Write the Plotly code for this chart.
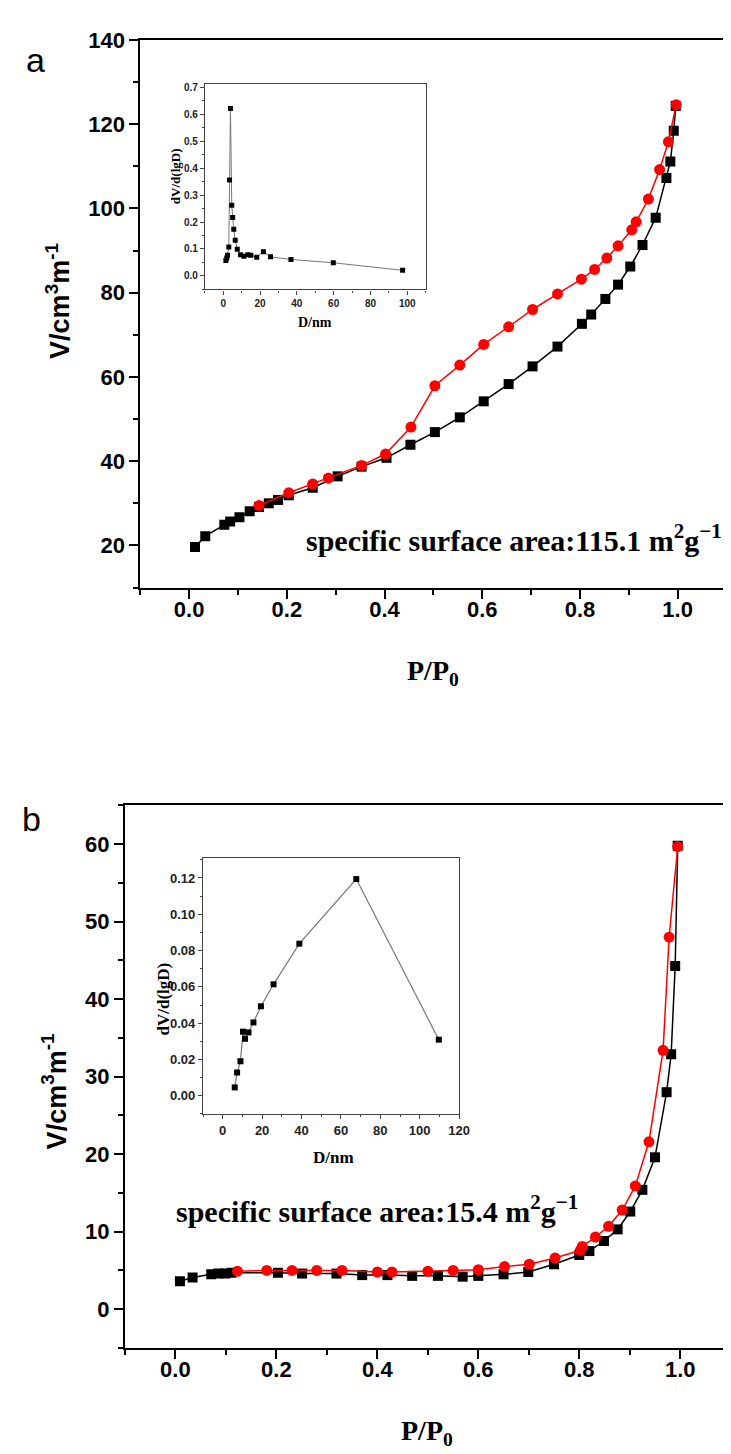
import plotly.graph_objects as go

W, H = 731, 1454

# ---------------- data: panel a (isotherm) ----------------
a_ads_p = [0.012, 0.033, 0.072, 0.084, 0.103, 0.124, 0.143, 0.163, 0.182, 0.204,
           0.253, 0.304, 0.353, 0.404, 0.453, 0.503, 0.554, 0.603, 0.654, 0.703,
           0.754, 0.804, 0.823, 0.852, 0.878, 0.903, 0.928, 0.955, 0.977, 0.985,
           0.992, 0.996]
a_ads_v = [19.6, 22.2, 24.9, 25.7, 26.7, 28.1, 29.1, 30.0, 30.8, 31.9,
           33.7, 36.4, 38.7, 40.8, 43.9, 46.9, 50.4, 54.2, 58.3, 62.5,
           67.2, 72.6, 74.8, 78.5, 81.9, 86.2, 91.3, 97.8, 107.2, 111.1,
           118.4, 124.3]
a_des_p = [0.997, 0.981, 0.963, 0.940, 0.915, 0.906, 0.878, 0.855, 0.830, 0.803,
           0.754, 0.703, 0.654, 0.603, 0.554, 0.503, 0.454, 0.402, 0.353, 0.285,
           0.253, 0.204, 0.143]
a_des_v = [124.6, 115.8, 109.2, 102.2, 96.8, 94.9, 91.1, 88.2, 85.5, 83.2,
           79.7, 76.0, 71.9, 67.7, 62.8, 57.9, 48.1, 41.7, 39.0, 36.0,
           34.6, 32.5, 29.5]

# inset a (pore size distribution)
a_psd_d = [1.4, 1.9, 2.3, 3.0, 3.4, 3.9, 4.6, 5.1, 5.7, 6.5, 7.6, 9.4, 11.2,
           13.3, 15.0, 18.2, 21.8, 25.7, 36.8, 59.8, 97.5]
a_psd_v = [0.057, 0.067, 0.077, 0.107, 0.356, 0.621, 0.262, 0.217, 0.173, 0.132,
           0.099, 0.079, 0.073, 0.079, 0.077, 0.069, 0.090, 0.071, 0.061, 0.049,
           0.021]

# ---------------- data: panel b (isotherm) ----------------
b_ads_p = [0.009, 0.034, 0.071, 0.085, 0.099, 0.111, 0.203, 0.251, 0.319, 0.370,
           0.420, 0.469, 0.520, 0.569, 0.600, 0.650, 0.699, 0.750, 0.800, 0.820,
           0.849, 0.876, 0.901, 0.925, 0.950, 0.973, 0.982, 0.990, 0.995]
b_ads_v = [3.6, 4.1, 4.5, 4.6, 4.6, 4.7, 4.7, 4.6, 4.6, 4.4,
           4.4, 4.3, 4.3, 4.2, 4.3, 4.5, 4.8, 5.8, 7.0, 7.5,
           8.8, 10.3, 12.6, 15.4, 19.6, 28.0, 32.9, 44.3, 59.8]
b_des_p = [0.995, 0.978, 0.966, 0.938, 0.911, 0.885, 0.858, 0.832, 0.806, 0.802,
           0.752, 0.701, 0.652, 0.600, 0.550, 0.500, 0.429, 0.400, 0.330, 0.280,
           0.231, 0.181, 0.123]
b_des_v = [59.7, 48.0, 33.4, 21.6, 15.9, 12.8, 10.7, 9.3, 8.1, 7.6,
           6.6, 5.8, 5.5, 5.1, 5.0, 4.9, 4.8, 4.8, 5.0, 5.0,
           5.0, 5.0, 4.9]

# inset b (pore size distribution)
b_psd_d = [6.1, 7.3, 9.0, 10.3, 11.3, 13.1, 15.6, 19.4, 25.8, 38.9, 67.8, 109.7]
b_psd_v = [0.0046, 0.0128, 0.019, 0.0353, 0.0314, 0.0349, 0.0404, 0.0493,
           0.0614, 0.0838, 0.1194, 0.0309]

main_ticks = [0.0, 0.2, 0.4, 0.6, 0.8, 1.0]

# ---------------- helpers ----------------
def px_x(p):
    return p / W

def px_y(p):
    return 1 - p / H

SANS = "Liberation Sans, Arial, sans-serif"
SERIF = "Liberation Serif, Times New Roman, serif"

fig = go.Figure()

# Panel a
fig.add_trace(go.Scatter(x=a_ads_p, y=a_ads_v, mode="lines+markers", xaxis="x", yaxis="y",
                         line=dict(color="black", width=1.5),
                         marker=dict(symbol="square", size=10, color="black"),
                         showlegend=False))
fig.add_trace(go.Scatter(x=a_des_p, y=a_des_v, mode="lines+markers", xaxis="x", yaxis="y",
                         line=dict(color="#ff0000", width=1.5),
                         marker=dict(symbol="circle", size=11, color="#ff0000"),
                         showlegend=False))
# Panel b
fig.add_trace(go.Scatter(x=b_ads_p, y=b_ads_v, mode="lines+markers", xaxis="x2", yaxis="y2",
                         line=dict(color="black", width=1.5),
                         marker=dict(symbol="square", size=10, color="black"),
                         showlegend=False))
fig.add_trace(go.Scatter(x=b_des_p, y=b_des_v, mode="lines+markers", xaxis="x2", yaxis="y2",
                         line=dict(color="#ff0000", width=1.5),
                         marker=dict(symbol="circle", size=11, color="#ff0000"),
                         showlegend=False))
# Insets
fig.add_trace(go.Scatter(x=a_psd_d, y=a_psd_v, mode="lines+markers", xaxis="x3", yaxis="y3",
                         line=dict(color="#777777", width=1),
                         marker=dict(symbol="square", size=5, color="black"),
                         showlegend=False))
fig.add_trace(go.Scatter(x=b_psd_d, y=b_psd_v, mode="lines+markers", xaxis="x4", yaxis="y4",
                         line=dict(color="#777777", width=1.2),
                         marker=dict(symbol="square", size=6, color="black"),
                         showlegend=False))

main_font = dict(family=SANS, size=22, color="black", weight="bold")

def main_axis(**kw):
    d = dict(showline=True, linewidth=2, linecolor="black", mirror=True,
             ticks="outside", ticklen=9, tickwidth=2, tickcolor="black",
             showgrid=False, zeroline=False, tickfont=main_font)
    d.update(kw)
    return d

def inset_axis(fs, **kw):
    d = dict(showline=True, linewidth=1.2, linecolor="#444444", mirror=True,
             ticks="outside", ticklen=4, tickwidth=1, tickcolor="#444444",
             showgrid=False, zeroline=False,
             tickfont=dict(family=SANS, size=fs, color="#222222", weight="bold"))
    d.update(kw)
    return d

fig.update_layout(
    width=W, height=H,
    margin=dict(l=0, r=0, t=0, b=0, pad=0),
    paper_bgcolor="white", plot_bgcolor="white",
    xaxis=main_axis(domain=[px_x(134.3), px_x(729.5)], range=[-0.1, 1.1], anchor="y",
                    tickvals=main_ticks, tickformat=".1f", ticklabelstandoff=-8,
                    minor=dict(dtick=0.1, tick0=0, ticklen=5, tickwidth=2, tickcolor="black", ticks="outside")),
    yaxis=main_axis(domain=[px_y(572.3), px_y(20)], range=[10, 140], anchor="x",
                    dtick=20, tick0=0,
                    minor=dict(dtick=10, tick0=0, ticklen=5, tickwidth=2, tickcolor="black", ticks="outside")),
    xaxis2=main_axis(domain=[px_x(118.7), 1.0], range=[-0.1, 1.0946], anchor="y2",
                     tickvals=main_ticks, tickformat=".1f", ticklabelstandoff=-8,
                     minor=dict(dtick=0.1, tick0=0, ticklen=5, tickwidth=2, tickcolor="black", ticks="outside")),
    yaxis2=main_axis(domain=[px_y(1339), px_y(792)], range=[-5, 65], anchor="x2",
                     dtick=10, tick0=0, mirror=False,
                     minor=dict(dtick=5, tick0=0, ticklen=5, tickwidth=2, tickcolor="black", ticks="outside")),
    xaxis3=inset_axis(10, domain=[px_x(199.9), px_x(424)], range=[-10, 110], anchor="y3",
                      dtick=20, tick0=0,
                      minor=dict(dtick=10, tick0=0, ticklen=2, tickwidth=1, tickcolor="#444444", ticks="outside")),
    yaxis3=inset_axis(10, domain=[px_y(271.7), px_y(65)], range=[-0.05, 0.71], anchor="x3",
                      dtick=0.1, tick0=0, tickformat=".1f",
                      minor=dict(dtick=0.05, tick0=0, ticklen=2, tickwidth=1, tickcolor="#444444", ticks="outside")),
    xaxis4=inset_axis(13, domain=[px_x(198), px_x(458)], range=[-10, 120], anchor="y4",
                      dtick=20, tick0=0,
                      minor=dict(dtick=10, tick0=0, ticklen=2, tickwidth=1, tickcolor="#444444", ticks="outside")),
    yaxis4=inset_axis(13, domain=[px_y(1103), px_y(845)], range=[-0.01, 0.131], anchor="x4",
                      dtick=0.02, tick0=0, tickformat=".2f",
                      minor=dict(dtick=0.01, tick0=0, ticklen=2, tickwidth=1, tickcolor="#444444", ticks="outside")),
)

ann = []
def add_text(text, x, y, size, family, bold=True, angle=0, color="black", xanchor="center", yanchor="middle"):
    t = f"<b>{text}</b>" if bold else text
    ann.append(dict(text=t, x=px_x(x), y=px_y(y), xref="paper", yref="paper",
                    showarrow=False, textangle=angle, xanchor=xanchor, yanchor=yanchor,
                    font=dict(family=family, size=size, color=color)))

# panel letters
add_text("a", 28, 40, 34, SANS, bold=False)
add_text("b", 24, 806, 34, SANS, bold=False)
# y axis titles
add_text("V/cm<sup>3</sup>m<sup>-1</sup>", 50, 283, 27, SANS, angle=-90)
add_text("V/cm<sup>3</sup>m<sup>-1</sup>", 47, 1080, 27, SANS, angle=-90)
# x axis titles
add_text("P/P<sub>0</sub>", 432, 658, 28, SERIF)
add_text("P/P<sub>0</sub>", 425, 1424, 28, SERIF)
# specific surface area texts
add_text("specific surface area:115.1 m<sup>2</sup>g<sup>−1</sup>", 514, 522, 30, SERIF)
add_text("specific surface area:15.4 m<sup>2</sup>g<sup>−1</sup>", 375, 1199, 30, SERIF)
# inset titles
add_text("dV/d(lgD)", 170, 157, 13, SERIF, angle=-90)
add_text("D/nm", 312, 305, 14, SERIF)
add_text("dV/d(lgD)", 158, 987, 17, SERIF, angle=-90)
add_text("D/nm", 330, 1147, 17, SERIF)

fig.update_layout(annotations=ann)

fig.write_html("out.html")
